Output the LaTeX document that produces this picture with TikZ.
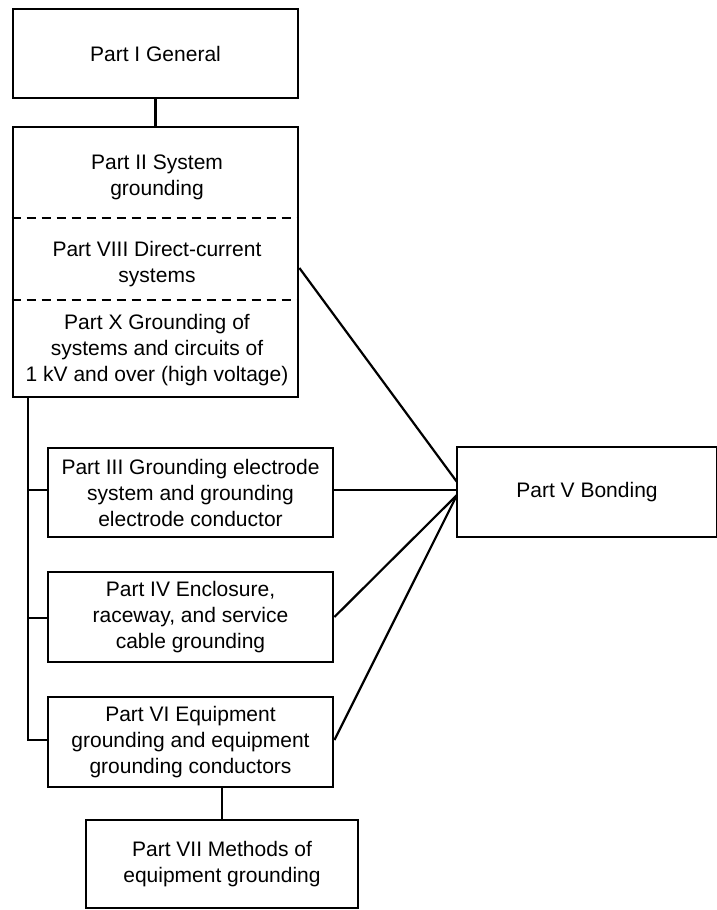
\documentclass[tikz,border=0pt]{standalone}
\usepackage{fontspec}
\setmainfont{Liberation Sans}
\begin{document}
\begin{tikzpicture}[x=1pt,y=-1pt,
  box/.style={draw,line width=2.8pt,rectangle,inner sep=0pt,align=center,
    font=\fontsize{21}{26}\selectfont},
  txt/.style={inner sep=0pt,align=center,font=\fontsize{21}{26}\selectfont},
  conn/.style={line width=2.2pt},
  sep/.style={line width=2pt,dashed,dash pattern=on 9pt off 6pt}]
\useasboundingbox (0,0) rectangle (716,910);
% boxes
\node[box,minimum width=285pt,minimum height=89pt] (p1) at (155.5,53.5) {Part I General};
\node[box,minimum width=285pt,minimum height=270pt] (big) at (155.5,262) {};
\node[txt] (p2) at (157,177) {Part II System\\grounding};
\node[txt] (p8) at (157,264) {Part VIII Direct-current\\systems};
\node[txt] (p10) at (157,350) {Part X Grounding of\\systems and circuits of\\1 kV and over (high voltage)};
\node[box,minimum width=285pt,minimum height=89pt] (p3) at (190.5,492.5) {Part III Grounding electrode\\system and grounding\\electrode conductor};
\node[box,minimum width=285pt,minimum height=90pt] (p4) at (190.5,617) {Part IV Enclosure,\\raceway, and service\\cable grounding};
\node[box,minimum width=285pt,minimum height=90pt] (p6) at (190.5,742) {Part VI Equipment\\grounding and equipment\\grounding conductors};
\node[box,minimum width=272pt,minimum height=88pt] (p7) at (222,864) {Part VII Methods of\\equipment grounding};
\node[box,minimum width=260pt,minimum height=90pt] (p5) at (587,492) {Part V Bonding};
% dashed separators inside big box
\draw[sep] (big.west |- 0,218) -- (big.east |- 0,218);
\draw[sep] (big.west |- 0,300) -- (big.east |- 0,300);
% connectors
\draw[conn] (p1.south) -- (big.north);
\coordinate (bus) at (28,740);
\draw[conn] (big.south -| bus) -- (bus) -- (p6.west |- bus);
\draw[conn] (28,490) -- (p3.west |- 0,490);
\draw[conn] (28,618) -- (p4.west |- 0,618);
\draw[conn] (p7.north |- p6.south) -- (p7.north);
\coordinate (hubA) at (457,482);
\coordinate (hubB) at (457,495);
\draw[conn] (big.east |- 0,268) -- (hubA);
\draw[conn] (p3.east |- 0,490) -- (p5.west |- 0,490);
\draw[conn] (p4.east |- 0,617) -- (hubB);
\draw[conn] (p6.east |- 0,740) -- (hubB);
\end{tikzpicture}
\end{document}
